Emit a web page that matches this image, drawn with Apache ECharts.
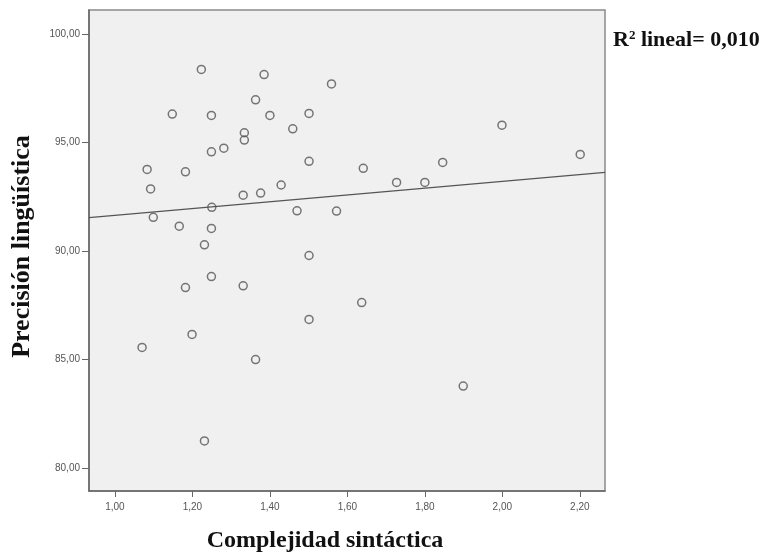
<!DOCTYPE html>
<html>
<head>
<meta charset="utf-8">
<script src="https://cdn.jsdelivr.net/npm/echarts@6/dist/echarts.min.js"></script>
<style>
  html, body { margin: 0; padding: 0; background: #fff; }
  #chart { width: 768px; height: 554px; }
</style>
</head>
<body>
<div id="chart"></div>
<script>
// Complejidad sintáctica (x) vs Precisión lingüística (y)
var complejidad = [1.223, 1.385, 1.559, 1.148, 1.249, 1.363, 1.400, 1.501, 1.459, 1.334,
  1.334, 1.249, 1.281, 1.083, 1.182, 1.501, 1.641, 1.092, 1.331, 1.376,
  1.429, 1.250, 1.099, 1.470, 1.572, 1.166, 1.249, 1.231, 1.501, 1.249,
  1.999, 2.201, 1.846, 1.727, 1.800, 1.182, 1.331, 1.637, 1.501, 1.199,
  1.070, 1.363, 1.231, 1.899]
var precision = [98.38, 98.14, 97.71, 96.32, 96.26, 96.98, 96.26, 96.35, 95.64, 95.46,
  95.12, 94.58, 94.75, 93.77, 93.66, 94.14, 93.82, 92.87, 92.58, 92.68,
  93.05, 92.02, 91.56, 91.86, 91.85, 91.15, 91.05, 90.29, 89.80, 88.83,
  95.81, 94.46, 94.09, 93.17, 93.17, 88.32, 88.40, 87.63, 86.85, 86.16,
  85.56, 85.00, 81.25, 83.78]

// fit line ends, read at the plot edges
var fitX = [0.933, 2.265]
var fitY = [91.55, 93.63]

var xTicks = [1.0, 1.2, 1.4, 1.6, 1.8, 2.0, 2.2]
var yTicks = [80, 85, 90, 95, 100]

var points = complejidad.map(function (x, i) { return [x, precision[i]] })
var fitLine = fitX.map(function (x, i) { return [x, fitY[i]] })

function fmt (v) { return v.toFixed(2).replace('.', ',') }

var myChart = echarts.init(document.getElementById('chart'))
myChart.setOption({
  animation: false,
  title: {
    left: 608,
    top: 24,
    text: '{a|R}{s|2}{a| lineal= 0,010}',
    textStyle: {
      rich: {
        a: { fontFamily: 'Liberation Serif', fontWeight: 'bold', fontSize: 22, color: '#111' },
        s: { fontFamily: 'Liberation Serif', fontWeight: 'bold', fontSize: 13, color: '#111', verticalAlign: 'top', padding: [0, 0, 10, 0] }
      }
    }
  },
  grid: {
    left: 89,
    top: 10,
    width: 516,
    height: 481,
    outerBoundsMode: 'none',
    containLabel: false,
    show: true,
    backgroundColor: '#f0f0f0',
    borderColor: '#8a8a8a',
    borderWidth: 1.5
  },
  xAxis: {
    type: 'value',
    min: 0.933,
    max: 2.265,
    name: 'Complejidad sintáctica',
    nameLocation: 'middle',
    nameGap: 38,
    nameTextStyle: { fontFamily: 'Liberation Serif', fontWeight: 'bold', fontSize: 24, color: '#111', padding: [0, 44, 0, 0] },
    axisLine: { lineStyle: { color: '#666', width: 1.5 } },
    axisTick: { show: true, length: 6, customValues: xTicks, lineStyle: { color: '#666' } },
    axisLabel: { customValues: xTicks, formatter: fmt, fontFamily: 'Liberation Sans', fontSize: 10, color: '#555', margin: 11 },
    splitLine: { show: false }
  },
  yAxis: {
    type: 'value',
    min: 78.94,
    max: 101.12,
    name: 'Precisión lingüística',
    nameLocation: 'middle',
    nameGap: 54,
    nameTextStyle: { fontFamily: 'Liberation Serif', fontWeight: 'bold', fontSize: 26, color: '#111', padding: [0, 0, 0, 8] },
    axisLine: { show: true, lineStyle: { color: '#666', width: 1.5 } },
    axisTick: { show: true, length: 7, customValues: yTicks, lineStyle: { color: '#666' } },
    axisLabel: { customValues: yTicks, formatter: fmt, fontFamily: 'Liberation Sans', fontSize: 10, color: '#555', margin: 9 },
    splitLine: { show: false }
  },
  series: [
    {
      type: 'scatter',
      data: points,
      symbol: 'circle',
      symbolSize: 8,
      itemStyle: { color: 'rgba(0,0,0,0)', borderColor: '#555', borderWidth: 1.5 }
    },
    {
      type: 'line',
      data: fitLine,
      showSymbol: false,
      lineStyle: { color: '#555', width: 1.3 },
      silent: true
    }
  ]
})
</script>
</body>
</html>
